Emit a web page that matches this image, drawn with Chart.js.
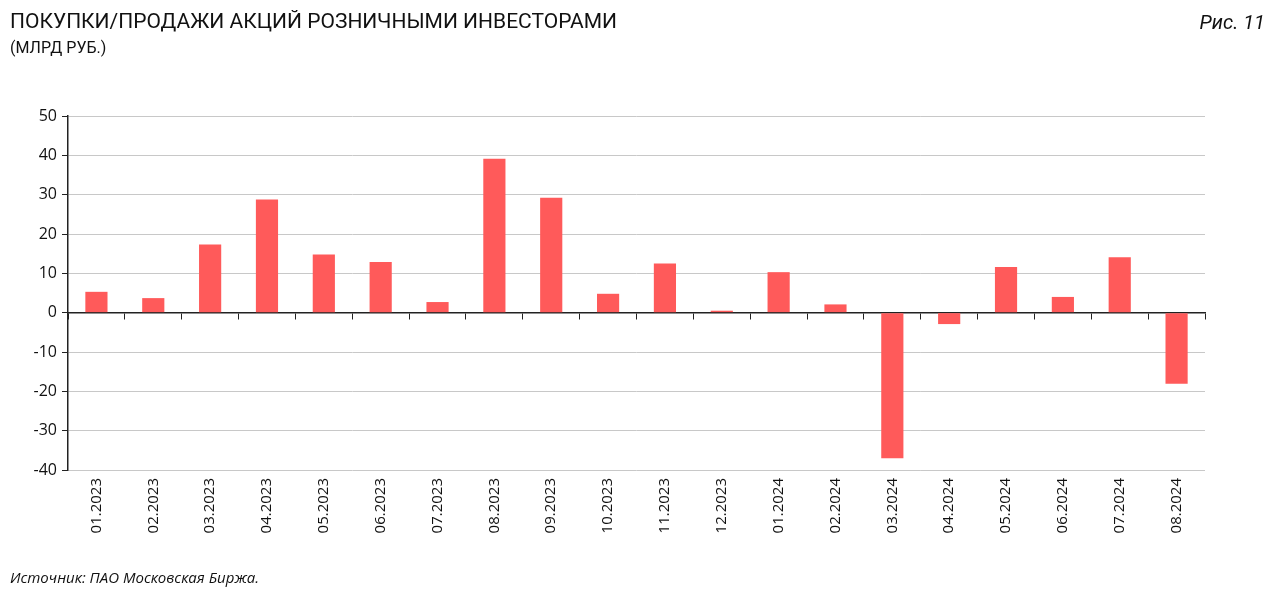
<!DOCTYPE html>
<html lang="ru">
<head>
<meta charset="utf-8">
<script src="https://cdn.jsdelivr.net/npm/chart.js@4"></script>
<style>
    body { margin: 0; background: #fff; font-family: Roboto, sans-serif; color: #111; }
    #wrap { position: relative; width: 1280px; height: 599px; }
    #chart { position: absolute; left: 0; top: 0; }
    .title { position: absolute; left: 10px; top: 9px; font-size: 21px; white-space: nowrap; }
    .subtitle { position: absolute; left: 10px; top: 38px; font-size: 16px; white-space: nowrap; }
    .fig { position: absolute; right: 15px; top: 10px; font-size: 20px; font-style: italic; }
    .source { position: absolute; left: 10px; top: 567px; font-size: 15px; font-style: italic; font-family: "Open Sans", sans-serif; }
</style>
</head>
<body>
<div id="wrap">
    <canvas id="chart" width="1280" height="599"></canvas>
    <div class="title">ПОКУПКИ/ПРОДАЖИ АКЦИЙ РОЗНИЧНЫМИ ИНВЕСТОРАМИ</div>
    <div class="subtitle">(МЛРД РУБ.)</div>
    <div class="fig">Рис. 11</div>
    <div class="source">Источник: ПАО Московская Биржа.</div>
</div>
<script>
const months = ['01.2023', '02.2023', '03.2023', '04.2023', '05.2023', '06.2023', '07.2023', '08.2023', '09.2023', '10.2023',
    '11.2023', '12.2023', '01.2024', '02.2024', '03.2024', '04.2024', '05.2024', '06.2024', '07.2024', '08.2024'];
const netBuying = [5.3, 3.7, 17.3, 28.8, 14.8, 12.9, 2.7, 39.1, 29.2, 4.8,
    12.5, 0.5, 10.3, 2.1, -37.0, -2.9, 11.6, 4.0, 14.1, -18.1];
const yTicks = [-40, -30, -20, -10, 0, 10, 20, 30, 40, 50];

const ctx = document.getElementById('chart').getContext('2d');
new Chart(ctx, {
    type: 'bar',
    data: {
        labels: months,
        datasets: [{
            data: netBuying,
            backgroundColor: '#ff5a5a',
            barPercentage: 0.78,
            categoryPercentage: 0.5
        }]
    },
    options: {
        responsive: false,
        animation: false,
        layout: { padding: { left: 0, top: 116, right: 75, bottom: 0 } },
        plugins: { legend: { display: false }, tooltip: { enabled: false } },
        scales: {
            x: {
                position: 'bottom',
                grid: { display: false, drawTicks: false },
                border: { display: false },
                ticks: { color: '#111', font: { family: '"Open Sans", sans-serif', size: 15 }, maxRotation: 90, minRotation: 90, padding: 8 },
                afterFit: scale => { scale.height = 129; }
            },
            // zero line with tick marks between months
            x0: {
                type: 'category',
                position: { y: 0 },
                z: 1,
                grid: { drawOnChartArea: false, offset: true, tickLength: 6, color: '#222' },
                border: { color: '#222', width: 1.5 },
                ticks: { display: false }
            },
            y: {
                min: -40,
                max: 50,
                afterBuildTicks: scale => { scale.ticks = yTicks.map(v => ({ value: v })); },
                grid: { color: '#c8c8c8', tickColor: '#222', tickLength: 6 },
                border: { color: '#222', width: 1.5 },
                ticks: { color: '#111', font: { family: '"Open Sans", sans-serif', size: 16 }, padding: 5 },
                afterFit: scale => { scale.width = 68; }
            }
        }
    }
});
</script>
</body>
</html>
